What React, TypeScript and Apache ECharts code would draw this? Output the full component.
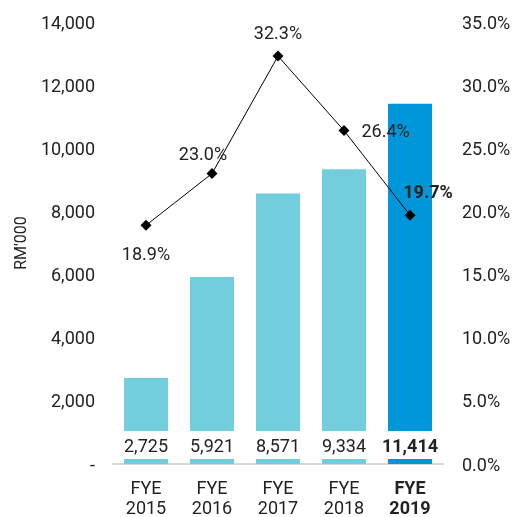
import React, { useEffect, useRef } from "react";
import * as echarts from "echarts";

const categories = ["FYE\n2015", "FYE\n2016", "FYE\n2017", "FYE\n2018", "FYE\n2019"];
const revenue = [2725, 5921, 8571, 9334, 11414];
const margin = [18.9, 23.0, 32.3, 26.4, 19.7];

const FONT = "Roboto";

export default function App() {
  const ref = useRef<HTMLDivElement>(null);
  useEffect(() => {
    const chart = echarts.init(ref.current!, undefined, { renderer: "svg" });
    const last = categories.length - 1;
    chart.setOption({
      animation: false,
      textStyle: { fontFamily: FONT },
      grid: { left: 113, right: 73, top: 22, bottom: 53, outerBoundsMode: "none", containLabel: false },
      xAxis: {
        type: "category",
        data: categories.map((c, i) =>
          i === last ? { value: c, textStyle: { fontWeight: "bold" } } : c
        ),
        axisLine: { lineStyle: { color: "#d9d9d9", width: 2 } },
        axisTick: { show: false },
        axisLabel: { color: "#222", fontSize: 18, lineHeight: 20, margin: 13, fontFamily: FONT },
      },
      yAxis: [
        {
          type: "value",
          min: 0,
          max: 14000,
          interval: 2000,
          name: "RM'000",
          nameLocation: "middle",
          nameGap: 85,
          nameTextStyle: { color: "#222", fontSize: 16, fontFamily: FONT },
          axisLine: { show: false },
          axisTick: { show: false },
          splitLine: { show: false },
          axisLabel: {
            color: "#222",
            fontSize: 18,
            margin: 18,
            fontFamily: FONT,
            formatter: (v: number) => (v === 0 ? "-" : v.toLocaleString("en-US")),
          },
        },
        {
          type: "value",
          min: 0,
          max: 35,
          interval: 5,
          axisLine: { show: false },
          axisTick: { show: false },
          splitLine: { show: false },
          axisLabel: {
            color: "#222",
            fontSize: 18,
            margin: 19,
            fontFamily: FONT,
            formatter: (v: number) => v.toFixed(1) + "%",
          },
        },
      ],
      series: [
        {
          type: "bar",
          barWidth: 44,
          data: revenue.map((v, i) => ({
            value: v,
            itemStyle: { color: i === last ? "#0097DA" : "#72CDDD" },
            label: i === last ? { fontWeight: "bold" } : {},
          })),
          label: {
            show: true,
            position: "insideBottom",
            distance: 5,
            color: "#222",
            fontSize: 18,
            fontFamily: FONT,
            backgroundColor: "#fff",
            padding: [5, 2, 5, 2],
            formatter: (p: any) => p.value.toLocaleString("en-US"),
          },
        },
        {
          type: "line",
          yAxisIndex: 1,
          data: margin.map((v, i) => {
            const labels: any[] = [
              { position: "bottom", distance: 14 },
              { position: "top", distance: 6, offset: [-9, 0] },
              { position: "top", distance: 9 },
              { position: "right", distance: 12 },
              { position: "top", distance: 9, offset: [18, 0], fontWeight: "bold" },
            ];
            return { value: v, label: labels[i] };
          }),
          symbol: "diamond",
          symbolSize: 11,
          lineStyle: { color: "#000", width: 1 },
          itemStyle: { color: "#000" },
          label: {
            show: true,
            color: "#222",
            fontSize: 18,
            fontFamily: FONT,
            formatter: (p: any) => p.value.toFixed(1) + "%",
          },
        },
      ],
    });
    return () => chart.dispose();
  }, []);
  return (
    <div
      ref={ref}
      style={{ position: "fixed", left: 0, top: 0, width: 516, height: 517 }}
    />
  );
}
